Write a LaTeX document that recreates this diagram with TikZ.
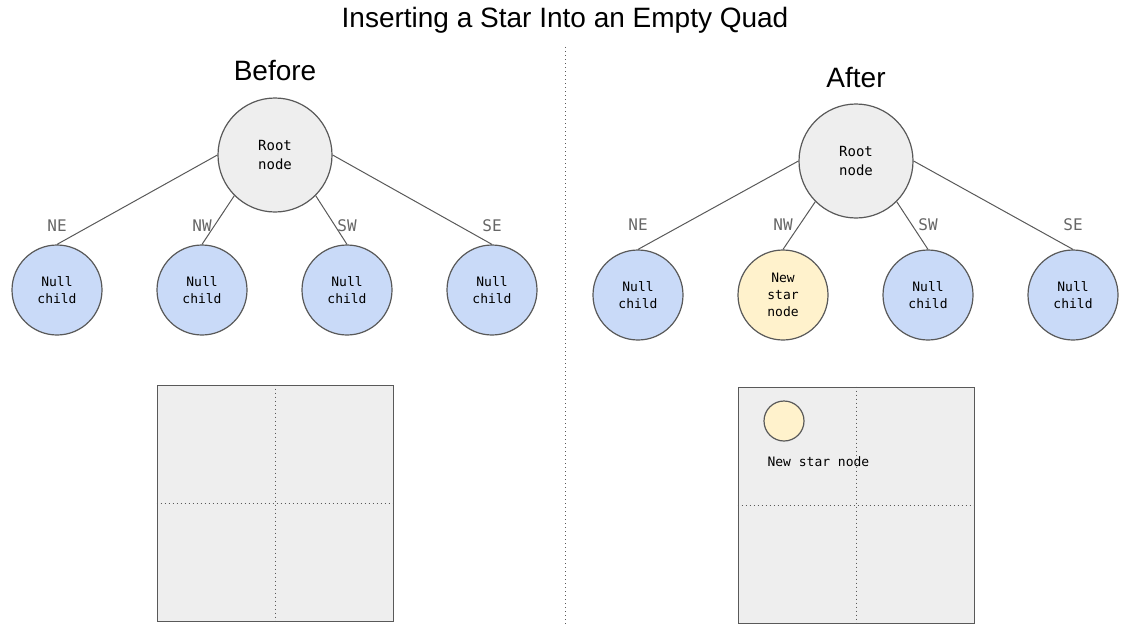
\documentclass[tikz,border=0pt]{standalone}
\usepackage{fontspec}
\setmainfont{Liberation Sans}
\setmonofont{DejaVu Sans Mono}
\usetikzlibrary{positioning}
\definecolor{edgegray}{HTML}{595959}
\definecolor{labelgray}{HTML}{666666}
\definecolor{rootfill}{HTML}{EEEEEE}
\definecolor{nullfill}{HTML}{C9DAF8}
\definecolor{starfill}{HTML}{FFF2CC}
\begin{document}
\begin{tikzpicture}[
  x=1pt, y=-1pt,
  root/.style={circle, draw=edgegray, fill=rootfill, minimum size=114pt, inner sep=0pt, line width=1.2pt, align=center, font=\ttfamily\fontsize{14}{19}\selectfont},
  null/.style={circle, draw=edgegray, fill=nullfill, minimum size=90pt, inner sep=0pt, line width=1.2pt, align=center, font=\ttfamily\fontsize{13}{17}\selectfont},
  starchild/.style={null, fill=starfill},
  dirlabel/.style={text=labelgray, font=\ttfamily\fontsize{16}{16}\selectfont},
  heading/.style={font=\fontsize{28}{28}\selectfont},
  quad/.style={draw=edgegray, fill=rootfill, minimum size=236pt, inner sep=0pt, line width=1pt},
  divide/.style={edgegray, line width=1pt, dash pattern=on 1pt off 3pt},
  edge/.style={edgegray, line width=1pt},
  node distance=145pt
]
\useasboundingbox (0,0) rectangle (1131,626);

\node[heading] (title) at (565,20) {Inserting a Star Into an Empty Quad};
\coordinate (divtop) at (565,47);
\coordinate (divbot) at (565,626);
\draw[divide] (divtop) -- (divbot);

% before
\node[heading] (before) at (275,71) {Before};
\node[root] (rootL) at (275,155) {Root\\node};
\node[null] (neL) at (57,290) {Null\\child};
\node[null, right of=neL] (nwL) {Null\\child};
\node[null, right of=nwL] (swL) {Null\\child};
\node[null, right of=swL] (seL) {Null\\child};

\node[dirlabel, above of=neL, node distance=64pt] (neLlab) {NE};
\node[dirlabel, above of=nwL, node distance=64pt] (nwLlab) {NW};
\node[dirlabel, above of=swL, node distance=64pt] (swLlab) {SW};
\node[dirlabel, above of=seL, node distance=64pt] (seLlab) {SE};

\draw[edge] (rootL.west) -- (neL.north);
\draw[edge] (rootL.south west) -- (nwL.north);
\draw[edge] (rootL.south east) -- (swL.north);
\draw[edge] (rootL.east) -- (seL.north);

\node[quad] (quadL) at (275,503) {};
\draw[divide] (quadL.north) -- (quadL.south);
\draw[divide] (quadL.west) -- (quadL.east);

% after
\node[heading] (after) at (856,78) {After};
\node[root] (rootR) at (856,161) {Root\\node};
\node[null] (neR) at (638,295) {Null\\child};
\node[starchild, right of=neR] (nwR) {New\\star\\node};
\node[null, right of=nwR] (swR) {Null\\child};
\node[null, right of=swR] (seR) {Null\\child};

\node[dirlabel, above of=neR, node distance=70pt] (neRlab) {NE};
\node[dirlabel, above of=nwR, node distance=70pt] (nwRlab) {NW};
\node[dirlabel, above of=swR, node distance=70pt] (swRlab) {SW};
\node[dirlabel, above of=seR, node distance=70pt] (seRlab) {SE};

\draw[edge] (rootR.west) -- (neR.north);
\draw[edge] (rootR.south west) -- (nwR.north);
\draw[edge] (rootR.south east) -- (swR.north);
\draw[edge] (rootR.east) -- (seR.north);

\node[quad] (quadR) at (856,505) {};
\draw[divide] (quadR.north) -- (quadR.south);
\draw[divide] (quadR.west) -- (quadR.east);
\node[starchild, minimum size=40pt] (star) at (784,421) {};
\node[anchor=west, font=\ttfamily\fontsize{13}{13}\selectfont] (starcap) at (764,462) {New star node};
\end{tikzpicture}
\end{document}
